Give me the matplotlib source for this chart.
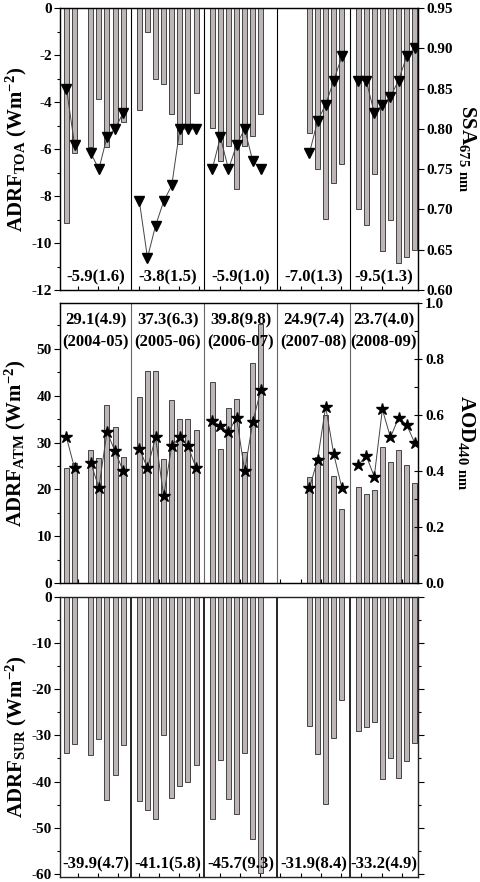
"""
Monthly aerosol direct radiative forcing (TOA / ATM / SUR) with SSA and AOD, 2004-2009.
"""

import numpy as np
import matplotlib
matplotlib.use('Agg')
import matplotlib.pyplot as plt
from matplotlib.ticker import MultipleLocator

plt.rcParams['font.family'] = 'serif'
plt.rcParams['font.serif'] = ['Liberation Serif', 'DejaVu Serif']
plt.rcParams['font.weight'] = 'bold'
plt.rcParams['axes.labelweight'] = 'bold'
plt.rcParams['font.size'] = 11
plt.rcParams['axes.unicode_minus'] = False
plt.rcParams['mathtext.fontset'] = 'custom'
plt.rcParams['mathtext.rm'] = 'Liberation Serif:bold'
plt.rcParams['mathtext.bf'] = 'Liberation Serif:bold'
plt.rcParams['mathtext.default'] = 'bf'

# Data: one list per season, 8 monthly slots each (None = no data)
seasons = ['2004-05', '2005-06', '2006-07', '2007-08', '2008-09']

toa_forcing = [
    [-9.15, -6.19, None, -5.91, -3.89, -5.91, -5.05, -4.87],
    [-4.34, -1.02, -3.02, -3.25, -4.53, -5.79, -5.0, -3.6],
    [-5.11, -6.49, -5.86, -7.69, -5.86, -5.45, -4.53, None],
    [None, None, None, -5.34, -6.83, -8.97, -7.44, -6.62],
    [-8.54, -9.25, -7.07, -10.32, -9.04, -10.86, -10.58, -10.28],
]
ssa = [
    [0.85, 0.78, None, 0.77, 0.75, 0.79, 0.80, 0.82],
    [0.71, 0.64, 0.68, 0.71, 0.73, 0.80, 0.80, 0.80],
    [0.75, 0.79, 0.75, 0.78, 0.80, 0.76, 0.75, None],
    [None, None, None, 0.77, 0.81, 0.83, 0.86, 0.89],
    [0.86, 0.86, 0.82, 0.83, 0.84, 0.86, 0.89, 0.90],
]
atm_forcing = [
    [24.6, 25.6, None, 28.3, 26.7, 38.1, 33.4, 27.0],
    [39.7, 45.2, 45.2, 26.5, 39.0, 35.0, 35.0, 32.6],
    [42.9, 28.6, 37.4, 39.3, 27.9, 47.0, 55.3, None],
    [None, None, None, 22.6, 27.0, 35.8, 22.8, 15.7],
    [20.5, 19.0, 19.9, 29.0, 25.8, 28.3, 25.1, 21.4],
]
aod = [
    [0.52, 0.41, None, 0.43, 0.34, 0.54, 0.47, 0.40],
    [0.48, 0.41, 0.52, 0.31, 0.49, 0.52, 0.49, 0.41],
    [0.58, 0.56, 0.54, 0.59, 0.40, 0.575, 0.69, None],
    [None, None, None, 0.34, 0.44, 0.63, 0.46, 0.34],
    [0.42, 0.455, 0.38, 0.62, 0.52, 0.59, 0.565, 0.50],
]
sur_forcing = [
    [-33.8, -31.8, None, -34.2, -30.7, -44.1, -38.5, -32.0],
    [-44.3, -46.1, -48.2, -29.9, -43.6, -40.9, -40.1, -36.4],
    [-48.2, -35.3, -43.7, -47.0, -33.8, -52.5, -59.8, None],
    [None, None, None, -28.0, -34.1, -44.8, -30.5, -22.4],
    [-29.1, -28.2, -27.1, -39.4, -34.9, -39.2, -35.6, -31.7],
]

toa_labels = ['-5.9(1.6)', '-3.8(1.5)', '-5.9(1.0)', '-7.0(1.3)', '-9.5(1.3)']
atm_labels = ['29.1(4.9)', '37.3(6.3)', '39.8(9.8)', '24.9(7.4)', '23.7(4.0)']
sur_labels = ['-39.9(4.7)', '-41.1(5.8)', '-45.7(9.3)', '-31.9(8.4)', '-33.2(4.9)']

bar_color = '#bdb5b5'
edge_color = '#444444'
xlim = (-0.8, 43.4)
dividers = [8, 17, 26, 35]


def season_x(i):
    return np.arange(8) + 9 * i


def to_arr(vals):
    return np.array([np.nan if v is None else v for v in vals], dtype=float)


def season_center(i):
    lo = max(xlim[0], 9 * i - 1)
    hi = min(xlim[1], 9 * i + 8)
    return (lo + hi) / 2


def draw_bars(ax, series):
    for i, vals in enumerate(series):
        y = to_arr(vals)
        ok = ~np.isnan(y)
        ax.bar(season_x(i)[ok], y[ok], width=0.62, color=bar_color,
               edgecolor=edge_color, linewidth=0.7, zorder=2)


def draw_line(ax, series, marker, ms):
    for i, vals in enumerate(series):
        ax.plot(season_x(i), to_arr(vals), color='#444444', linewidth=0.7,
                marker=marker, markersize=ms, markerfacecolor='black',
                markeredgecolor='black', zorder=3)


def style_axes(ax):
    ax.set_xlim(*xlim)
    ax.set_xticks(np.arange(1.4, 43, 2.5))
    ax.tick_params(axis='x', direction='in', length=3, labelbottom=False)
    ax.tick_params(axis='y', which='major', direction='out', length=4, width=0.8,
                   pad=2)
    ax.tick_params(axis='y', which='minor', direction='out', length=2, width=0.8)
    for s in ax.spines.values():
        s.set_linewidth(1.0)
        s.set_color('#222222')


def bold_ticks(ax):
    for lab in ax.get_yticklabels():
        lab.set_fontweight('heavy')
        lab.set_fontsize(11)


fig = plt.figure(figsize=(4.81, 8.82), dpi=100)
left, width = 60 / 481, 358 / 481
ax1 = fig.add_axes([left, 1 - 290 / 882, width, 282 / 882])
ax2 = fig.add_axes([left, 1 - 583 / 882, width, 280 / 882])
ax3 = fig.add_axes([left, 1 - 877 / 882, width, 280 / 882])

# Panel 1: TOA forcing + SSA
draw_bars(ax1, toa_forcing)
ax1.set_ylim(-12, 0)
ax1.set_yticks([-12, -10, -8, -6, -4, -2, 0])
ax1.yaxis.set_minor_locator(MultipleLocator(1))
style_axes(ax1)
bold_ticks(ax1)
for x in dividers:
    ax1.axvline(x, color='black', linewidth=0.8, zorder=1)
for i, lab in enumerate(toa_labels):
    ax1.text(season_center(i), -11.45, lab, ha='center', va='center',
             fontsize=12, fontweight='bold')
ax1.set_ylabel(r'ADRF$_{TOA}$ (Wm$^{-2}$)', fontsize=15, fontweight='bold', labelpad=2)

ax1r = ax1.twinx()
draw_line(ax1r, ssa, 'v', 7.5)
ax1r.set_ylim(0.60, 0.95)
ax1r.set_yticks([0.60, 0.65, 0.70, 0.75, 0.80, 0.85, 0.90, 0.95])
ax1r.set_yticklabels(['0.60', '0.65', '0.70', '0.75', '0.80', '0.85', '0.90', '0.95'])
ax1r.tick_params(axis='y', direction='out', length=4, width=0.8, pad=2)
bold_ticks(ax1r)
ax1r.set_xlim(*xlim)
ax1r.set_ylabel(r'SSA$_{675\ nm}$', fontsize=15, fontweight='bold', rotation=270,
                labelpad=18)

# Panel 2: ATM forcing + AOD
draw_bars(ax2, atm_forcing)
ax2.set_ylim(0, 59.8)
ax2.set_yticks([0, 10, 20, 30, 40, 50])
ax2.yaxis.set_minor_locator(MultipleLocator(5))
style_axes(ax2)
bold_ticks(ax2)
for x in dividers:
    ax2.axvline(x, color='#666666', linewidth=0.8, zorder=1)
for i, (lab, season) in enumerate(zip(atm_labels, seasons)):
    ax2.text(season_center(i), 56.0, lab, ha='center', va='center',
             fontsize=12, fontweight='bold')
    ax2.text(season_center(i), 51.4, '(' + season + ')', ha='center', va='center',
             fontsize=12, fontweight='bold')
ax2.set_ylabel(r'ADRF$_{ATM}$ (Wm$^{-2}$)', fontsize=15, fontweight='bold', labelpad=6)

ax2r = ax2.twinx()
draw_line(ax2r, aod, '*', 9)
ax2r.set_ylim(0, 1.0)
ax2r.set_yticks([0.0, 0.2, 0.4, 0.6, 0.8, 1.0])
ax2r.set_yticklabels(['0.0', '0.2', '0.4', '0.6', '0.8', '1.0'])
ax2r.yaxis.set_minor_locator(MultipleLocator(0.1))
ax2r.tick_params(axis='y', which='major', direction='inout', length=6, width=0.8,
                 pad=2)
ax2r.tick_params(axis='y', which='minor', direction='in', length=3, width=0.8)
bold_ticks(ax2r)
ax2r.set_xlim(*xlim)
ax2r.set_ylabel(r'AOD$_{440\ nm}$', fontsize=15, fontweight='bold', rotation=270,
                labelpad=24)

# Panel 3: SUR forcing
draw_bars(ax3, sur_forcing)
ax3.set_ylim(-60.7, 0)
ax3.set_yticks([-60, -50, -40, -30, -20, -10, 0])
ax3.yaxis.set_minor_locator(MultipleLocator(5))
style_axes(ax3)
ax3.tick_params(axis='y', which='both', right=True, labelright=False)
bold_ticks(ax3)
for x in dividers:
    ax3.axvline(x, color='black', linewidth=1.2, zorder=1)
for i, lab in enumerate(sur_labels):
    ax3.text(season_center(i), -58.0, lab, ha='center', va='center',
             fontsize=12, fontweight='bold')
ax3.set_ylabel(r'ADRF$_{SUR}$ (Wm$^{-2}$)', fontsize=15, fontweight='bold', labelpad=2)

fig.align_ylabels([ax1, ax2, ax3])
plt.savefig('out.png', dpi=100)
plt.close()
